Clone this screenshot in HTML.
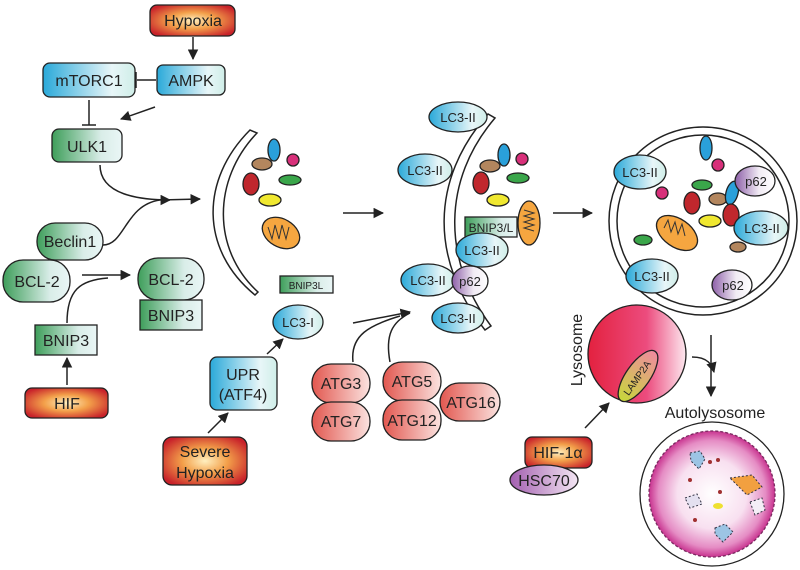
<!DOCTYPE html>
<html><head><meta charset="utf-8"><style>
html,body{margin:0;padding:0;background:#fff}
svg{display:block}
text{font-family:"Liberation Sans",sans-serif;fill:#222}
</style></head><body>
<svg width="800" height="570" viewBox="0 0 800 570" xmlns="http://www.w3.org/2000/svg">
<defs>
<radialGradient id="red" cx="50%" cy="50%" r="60%"><stop offset="0" stop-color="#fff0c0"/><stop offset="0.45" stop-color="#f3a04a"/><stop offset="1" stop-color="#c8222a"/></radialGradient>
<linearGradient id="blue" x1="0" x2="1"><stop offset="0" stop-color="#2aa9d9"/><stop offset="0.75" stop-color="#e8f6f8"/><stop offset="1" stop-color="#cfeee8"/></linearGradient>
<linearGradient id="green" x1="0" x2="1"><stop offset="0" stop-color="#3e9e5a"/><stop offset="0.7" stop-color="#d9ede8"/><stop offset="1" stop-color="#eaf6f6"/></linearGradient>
<linearGradient id="pinkatg" x1="0" x2="1"><stop offset="0" stop-color="#e2574f"/><stop offset="1" stop-color="#fbe3e0"/></linearGradient>
<linearGradient id="purple" x1="0" x2="1"><stop offset="0" stop-color="#8d5fa8"/><stop offset="0.6" stop-color="#f1ebf4"/><stop offset="1" stop-color="#fff"/></linearGradient>
<linearGradient id="hsc" x1="0" x2="1"><stop offset="0" stop-color="#a35fb0"/><stop offset="1" stop-color="#f3e6f3"/></linearGradient>
<linearGradient id="lys" x1="0" x2="1"><stop offset="0" stop-color="#e3213f"/><stop offset="0.6" stop-color="#ec4c7e"/><stop offset="1" stop-color="#fde8ef"/></linearGradient>
<linearGradient id="lamp" x1="0" x2="1"><stop offset="0" stop-color="#c7d83a"/><stop offset="1" stop-color="#f08aa0"/></linearGradient>
<radialGradient id="auto" cx="50%" cy="50%" r="50%"><stop offset="0" stop-color="#fff"/><stop offset="0.55" stop-color="#f8e0f0"/><stop offset="0.85" stop-color="#e58cc4"/><stop offset="1" stop-color="#c8338f"/></radialGradient>
<marker id="ar" viewBox="0 0 10 10" refX="9" refY="5" markerWidth="7" markerHeight="7" orient="auto"><path d="M0,0 L10,5 L0,10 z" fill="#222"/></marker>
</defs>
<g stroke="#222" stroke-width="1.5" fill="none">
<line x1="193" y1="37" x2="193" y2="59" marker-end="url(#ar)"/>
<line x1="156" y1="80" x2="137" y2="80"/><line x1="136" y1="72" x2="136" y2="88"/>
<line x1="155" y1="107" x2="121" y2="119" marker-end="url(#ar)"/>
<line x1="89" y1="100" x2="89" y2="125"/><line x1="82" y1="125" x2="96" y2="125"/>
<path d="M100,165 C100,195 140,200 170,200" marker-end="url(#ar)"/>
<path d="M103,245 C125,245 125,205 160,200 L200,199" marker-end="url(#ar)"/>
<line x1="82" y1="275" x2="130" y2="275" marker-end="url(#ar)"/>
<path d="M67,323 C67,290 80,280 108,278"/>
<line x1="67" y1="385" x2="67" y2="358" marker-end="url(#ar)"/>
<line x1="343" y1="213" x2="383" y2="213" marker-end="url(#ar)"/>
<line x1="553" y1="213" x2="592" y2="213" marker-end="url(#ar)"/>
<line x1="208" y1="433" x2="228" y2="413" marker-end="url(#ar)"/>
<line x1="267" y1="354" x2="283" y2="339" marker-end="url(#ar)"/>
<path d="M353,362 C350,335 370,325 400,316"/>
<path d="M353,323 L410,312" marker-end="url(#ar)"/>
<path d="M390,362 C385,335 392,322 410,313"/>
<line x1="585" y1="428" x2="609" y2="403" marker-end="url(#ar)"/>
<path d="M692,357 C708,357 712,365 714,372" marker-end="url(#ar)"/>
<line x1="711" y1="335" x2="711" y2="396" marker-end="url(#ar)"/>
<path d="M250,130 C200,180 200,250 255,295 L258,292 C212,250 212,180 257,133 Z" fill="#fff"/>
<path d="M488,114 C430,180 430,260 485,330 L491,326 C442,260 442,180 495,118 Z" fill="#fff"/>
<circle cx="703" cy="221" r="94" fill="#fff"/>
<circle cx="703" cy="221" r="86"/>
</g>
<g stroke="#222" stroke-width="1.3">
<rect x="150" y="5" width="85" height="31" rx="7" fill="url(#red)"/>
<rect x="43" y="63" width="92" height="34" rx="7" fill="url(#blue)"/>
<rect x="157" y="65" width="68" height="30" rx="6" fill="url(#blue)"/>
<rect x="52" y="129" width="70" height="33" rx="7" fill="url(#green)"/>
<rect x="37" y="223" width="66" height="37" rx="18" fill="url(#green)"/>
<rect x="3" y="260" width="67" height="42" rx="20" fill="url(#green)"/>
<rect x="138" y="258" width="66" height="42" rx="20" fill="url(#green)"/>
<rect x="140" y="300" width="62" height="30" fill="url(#green)"/>
<rect x="35" y="325" width="62" height="30" fill="url(#green)"/>
<rect x="25" y="388" width="83" height="30" rx="7" fill="url(#red)"/>
<rect x="280" y="276" width="53" height="17" fill="url(#green)"/>
<ellipse cx="298" cy="322" rx="25" ry="17" fill="url(#blue)"/>
<rect x="210" y="357" width="67" height="53" rx="7" fill="url(#blue)"/>
<rect x="163" y="437" width="84" height="48" rx="9" fill="url(#red)"/>
<rect x="312" y="364" width="58" height="39" rx="19" fill="url(#pinkatg)"/>
<rect x="312" y="402" width="58" height="39" rx="19" fill="url(#pinkatg)"/>
<rect x="440" y="383" width="60" height="38" rx="19" fill="url(#pinkatg)"/>
<rect x="383" y="362" width="58" height="39" rx="19" fill="url(#pinkatg)"/>
<rect x="383" y="400" width="58" height="40" rx="19" fill="url(#pinkatg)"/>
<ellipse cx="274" cy="150" rx="6" ry="11" fill="#2aa0da"/>
<ellipse cx="262" cy="164" rx="10" ry="6" fill="#b3865e"/>
<circle cx="293" cy="160" r="6" fill="#d8307a"/>
<ellipse cx="251" cy="184" rx="8" ry="11" fill="#c0272d"/>
<ellipse cx="290" cy="180" rx="11" ry="5" fill="#3aa64a"/>
<ellipse cx="270" cy="200" rx="11" ry="6" fill="#f0e830"/>
<ellipse cx="281" cy="233" rx="20" ry="14" transform="rotate(30 281 233)" fill="#f5a640"/>
<ellipse cx="504" cy="155" rx="6" ry="11" fill="#2aa0da"/>
<ellipse cx="490" cy="166" rx="10" ry="6" fill="#b3865e"/>
<circle cx="522" cy="159" r="6" fill="#d8307a"/>
<ellipse cx="481" cy="183" rx="8" ry="11" fill="#c0272d"/>
<ellipse cx="518" cy="178" rx="11" ry="5" fill="#3aa64a"/>
<ellipse cx="498" cy="200" rx="11" ry="6" fill="#f0e830"/>
<ellipse cx="529" cy="223" rx="11" ry="22" fill="#f5a640"/>
<rect x="465" y="217" width="52" height="20" fill="url(#green)"/>
<ellipse cx="458" cy="117" rx="29" ry="15" fill="url(#blue)"/>
<ellipse cx="425" cy="170" rx="27" ry="16" fill="url(#blue)"/>
<ellipse cx="482" cy="250" rx="26" ry="17" fill="url(#blue)"/>
<ellipse cx="428" cy="280" rx="27" ry="16" fill="url(#blue)"/>
<ellipse cx="470" cy="281" rx="18" ry="15" fill="url(#purple)"/>
<ellipse cx="458" cy="318" rx="26" ry="15" fill="url(#blue)"/>
<ellipse cx="706" cy="148" rx="6" ry="12" fill="#2aa0da"/>
<circle cx="718" cy="165" r="6" fill="#d8307a"/>
<circle cx="662" cy="193" r="6" fill="#d8307a"/>
<ellipse cx="702" cy="185" rx="10" ry="5" fill="#3aa64a"/>
<ellipse cx="692" cy="203" rx="8" ry="11" fill="#c0272d"/>
<ellipse cx="718" cy="199" rx="9" ry="6" fill="#b3865e"/>
<ellipse cx="732" cy="193" rx="6" ry="12" transform="rotate(15 732 193)" fill="#2aa0da"/>
<ellipse cx="731" cy="215" rx="8" ry="11" fill="#c0272d"/>
<ellipse cx="710" cy="221" rx="11" ry="6" fill="#f0e830"/>
<ellipse cx="738" cy="247" rx="8" ry="5" fill="#b3865e"/>
<ellipse cx="643" cy="240" rx="9" ry="5" fill="#3aa64a"/>
<ellipse cx="677" cy="233" rx="23" ry="14" transform="rotate(35 677 233)" fill="#f5a640"/>
<ellipse cx="640" cy="172" rx="26" ry="17" fill="url(#blue)"/>
<ellipse cx="755" cy="181" rx="20" ry="15" fill="url(#purple)"/>
<ellipse cx="761" cy="228" rx="27" ry="17" fill="url(#blue)"/>
<ellipse cx="652" cy="276" rx="26" ry="17" fill="url(#blue)"/>
<ellipse cx="732" cy="285" rx="20" ry="15" fill="url(#purple)"/>
<circle cx="637" cy="354" r="49" fill="url(#lys)"/>
<ellipse cx="638" cy="376" rx="30" ry="12" transform="rotate(-55 638 376)" fill="url(#lamp)"/>
<rect x="525" y="437" width="67" height="31" rx="7" fill="url(#red)"/>
<ellipse cx="544" cy="480" rx="34" ry="15" fill="url(#hsc)"/>
<circle cx="712" cy="494" r="72" fill="#fff"/>
<circle cx="712" cy="494" r="63" fill="url(#auto)" stroke="#7a2a60" stroke-dasharray="3 2"/>
</g>
<g stroke="#333" stroke-width="1" fill="none">
<path d="M268,227 l4,12 l3,-14 l4,14 l3,-14 l4,14 l3,-12"/>
<path d="M524,210 l10,3 l-10,3 l10,3 l-10,3 l10,3 l-10,3 l10,3"/>
<path d="M664,228 l4,-8 l3,12 l4,-10 l3,12 l4,-10 l3,12"/>
</g>
<g stroke="#334" stroke-width="1" stroke-dasharray="2 2">
<path d="M690,453 l10,-2 l5,8 l-6,10 l-8,-8 z" fill="#9cc4e4"/>
<path d="M685,498 l12,-4 l5,10 l-12,4 z" fill="#e4e0f0"/>
<path d="M750,502 l12,-4 l3,12 l-10,5 z" fill="#f4eef6"/>
<path d="M715,528 l10,-4 l8,8 l-10,10 l-8,-8 z" fill="#9cc4e4"/>
<path d="M730,478 l22,-3 l10,12 l-15,8 z" fill="#f2a040"/>
</g>
<g fill="#a03030"><circle cx="710" cy="462" r="2"/><circle cx="718" cy="460" r="2"/><circle cx="690" cy="480" r="2"/><circle cx="695" cy="520" r="2"/><circle cx="720" cy="492" r="2"/></g>
<ellipse cx="718" cy="506" rx="5" ry="3" fill="#eee030"/>
<g font-size="16" text-anchor="middle">
<text x="193" y="26">Hypoxia</text>
<text x="89" y="86">mTORC1</text>
<text x="191" y="86">AMPK</text>
<text x="87" y="152">ULK1</text>
<text x="70" y="247">Beclin1</text>
<text x="37" y="287">BCL-2</text>
<text x="171" y="285">BCL-2</text>
<text x="171" y="321">BNIP3</text>
<text x="66" y="346">BNIP3</text>
<text x="67" y="409">HIF</text>
<text x="243" y="380">UPR</text>
<text x="243" y="400">(ATF4)</text>
<text x="205" y="457">Severe</text>
<text x="205" y="478">Hypoxia</text>
<text x="341" y="389">ATG3</text>
<text x="341" y="427">ATG7</text>
<text x="412" y="387">ATG5</text>
<text x="412" y="426">ATG12</text>
<text x="471" y="408">ATG16</text>
<text x="558" y="458">HIF-1α</text>
<text x="544" y="486">HSC70</text>
<text x="715" y="418">Autolysosome</text>
<text x="0" y="0" transform="translate(582 350) rotate(-90)">Lysosome</text>
</g>
<g font-size="13" text-anchor="middle">
<text x="298" y="327">LC3-I</text>
<text x="458" y="122">LC3-II</text>
<text x="425" y="175">LC3-II</text>
<text x="482" y="255">LC3-II</text>
<text x="428" y="285">LC3-II</text>
<text x="470" y="286">p62</text>
<text x="458" y="323">LC3-II</text>
<text x="491" y="232" font-size="12">BNIP3/L</text>
<text x="640" y="177">LC3-II</text>
<text x="756" y="186">p62</text>
<text x="762" y="233">LC3-II</text>
<text x="652" y="281">LC3-II</text>
<text x="733" y="290">p62</text>
<text x="0" y="0" font-size="10" transform="translate(640 380) rotate(-55)">LAMP2A</text>
</g>
<text x="306" y="289" font-size="10" text-anchor="middle">BNIP3L</text>
</svg>
</body></html>
